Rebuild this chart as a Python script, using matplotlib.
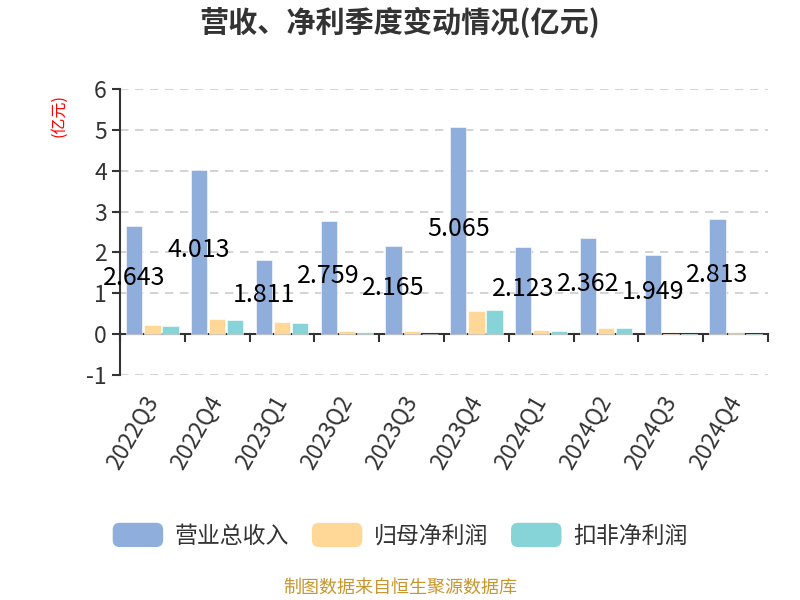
import matplotlib
matplotlib.use("Agg")
import matplotlib.pyplot as plt
import numpy as np
from matplotlib.patches import FancyBboxPatch, Patch
from matplotlib.legend_handler import HandlerPatch

plt.rcParams['font.family'] = ['Noto Sans CJK SC', 'DejaVu Sans']
plt.rcParams['axes.unicode_minus'] = False

quarters = ['2022Q3', '2022Q4', '2023Q1', '2023Q2', '2023Q3',
            '2023Q4', '2024Q1', '2024Q2', '2024Q3', '2024Q4']
revenue = [2.643, 4.013, 1.811, 2.759, 2.165, 5.065, 2.123, 2.362, 1.949, 2.813]
net_profit = [0.23, 0.36, 0.29, 0.07, 0.07, 0.57, 0.09, 0.14, -0.03, 0.04]
deducted_profit = [0.21, 0.34, 0.28, 0.04, 0.01, 0.58, 0.07, 0.14, -0.03, -0.02]
series_names = ['营业总收入', '归母净利润', '扣非净利润']
yticks = [-1, 0, 1, 2, 3, 4, 5, 6]

colors = ['#8FAEDC', '#FFD898', '#86D4D8']

fig = plt.figure(figsize=(8, 6), dpi=100)
ax = fig.add_axes([0.15, 0.375, 0.81, 0.4767])

x = np.arange(len(quarters))
w = 0.25
off = 0.28
ax.bar(x - off, revenue, w, color=colors[0], edgecolor='white', linewidth=0.4, zorder=3)
ax.bar(x, net_profit, w, color=colors[1], edgecolor='white', linewidth=0.4, zorder=3)
ax.bar(x + off, deducted_profit, w, color=colors[2], edgecolor='white', linewidth=0.4, zorder=3)

for xi, v in zip(x, revenue):
    ax.text(xi - off, v / 2 + 0.05, f'{v:.3f}', ha='center', va='center',
            fontsize=18, color='black', zorder=5)

ax.set_xlim(-0.5, len(quarters) - 0.5)
ax.set_ylim(-1, 6)
ax.set_yticks(yticks)
ax.set_yticklabels([str(t) for t in yticks])

for yv in yticks:
    if yv != 0:
        ax.axhline(yv, color='#cccccc', linestyle=(0, (5, 4)), linewidth=1.2, zorder=1)

for s in ['top', 'right', 'bottom']:
    ax.spines[s].set_visible(False)
ax.spines['left'].set_color('#333333')
ax.spines['left'].set_linewidth(1.5)
ax.tick_params(axis='y', direction='out', length=6, width=1.5, colors='#333333',
               labelsize=16.5, labelcolor='#333333')

ax.set_xticks(x)
ax.set_xticklabels(quarters, rotation=60, ha='right', va='center',
                   rotation_mode='anchor', fontsize=16.5, color='#333333')
ax.tick_params(axis='x', length=0, pad=16)

sec = ax.secondary_xaxis(1 / 7)
sec.set_xticks(np.arange(len(quarters) + 1) - 0.5)
sec.set_xticklabels([])
sec.spines['bottom'].set_color('#333333')
sec.spines['bottom'].set_linewidth(1.5)
sec.tick_params(axis='x', direction='out', length=6, width=1.5, colors='#333333')

fig.text(0.073, 0.808, '(亿元)', rotation=90, color='red', fontsize=11.5,
         ha='center', va='center')

fig.text(0.5, 0.962, '营收、净利季度变动情况(亿元)', ha='center', va='center',
         fontsize=21, fontweight='bold', color='#333333')

fig.text(0.5, 0.02, '制图数据来自恒生聚源数据库', ha='center', va='center',
         fontsize=13, color='#C8962E')


class RoundHandler(HandlerPatch):
    def create_artists(self, legend, orig_handle, xdescent, ydescent, width,
                       height, fontsize, trans):
        p = FancyBboxPatch((-xdescent, -ydescent), width, height,
                           boxstyle='round,pad=0,rounding_size=5',
                           facecolor=orig_handle.get_facecolor(),
                           edgecolor='none', transform=trans)
        return [p]


handles = [Patch(facecolor=c) for c in colors]
leg = fig.legend(handles, series_names, loc='center', bbox_to_anchor=(0.5, 0.108),
                 ncol=3, frameon=False, fontsize=16.5, handlelength=2.2,
                 handleheight=1.25, handletextpad=0.5, columnspacing=1.0,
                 handler_map={Patch: RoundHandler()})
for t in leg.get_texts():
    t.set_color('#333333')

fig.savefig('out.png', dpi=100)
